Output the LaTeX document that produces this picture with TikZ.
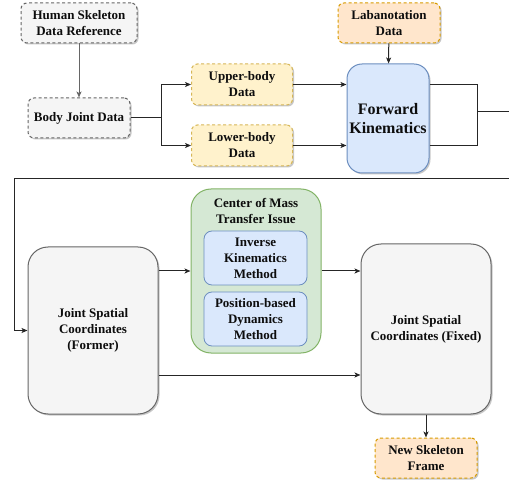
\documentclass[tikz,border=0pt]{standalone}
\usepackage{fontspec}
\setmainfont{Liberation Serif}
\usetikzlibrary{arrows.meta,shadows}
\definecolor{grayfill}{HTML}{F5F5F5}
\definecolor{graydraw}{HTML}{666666}
\definecolor{yelfill}{HTML}{FFF2CC}
\definecolor{yeldraw}{HTML}{D6B656}
\definecolor{orafill}{HTML}{FFE6CC}
\definecolor{oradraw}{HTML}{D79B00}
\definecolor{bluefill}{HTML}{DAE8FC}
\definecolor{bluedraw}{HTML}{6C8EBF}
\definecolor{grnfill}{HTML}{D5E8D4}
\definecolor{grndraw}{HTML}{82B366}
\begin{document}
\begin{tikzpicture}[x=1pt, y=-1pt,
  txt/.style={font=\fontsize{13}{16}\selectfont\bfseries, align=center,
              text=black!95, inner sep=2pt},
  shad/.style={drop shadow={shadow xshift=1.5pt, shadow yshift=-1.5pt,
               fill=black, opacity=0.22}},
  dbox/.style={txt, shad, draw, line width=1pt, rounded corners=6pt,
               dash pattern=on 3pt off 2.5pt},
  gbox/.style={dbox, fill=grayfill, draw=graydraw},
  ybox/.style={dbox, fill=yelfill, draw=yeldraw},
  obox/.style={dbox, fill=orafill, draw=oradraw},
  bbox/.style={txt, draw=bluedraw, fill=bluefill, line width=0.8pt,
               rounded corners=8pt},
  big/.style={txt, shad, draw=graydraw, fill=grayfill, line width=1pt,
              rounded corners=20pt},
  arr/.style={-{Stealth[length=6pt, width=5pt, inset=1.5pt]},
              line width=1pt, black!85},
  ln/.style={line width=1pt, black!85},
]
\useasboundingbox (0,0) rectangle (509,481);

% first row
\node[gbox, minimum width=116pt, minimum height=40pt] (hsref) at (79,23)
  {Human Skeleton\\Data Reference};
\node[gbox, minimum width=102pt, minimum height=40pt] (bjd) at (79,118)
  {Body Joint Data};
\node[ybox, minimum width=101pt, minimum height=41pt] (upper) at (242,84.5)
  {Upper-body\\Data};
\node[ybox, minimum width=101pt, minimum height=41pt] (lower) at (242,145.5)
  {Lower-body\\Data};
\node[obox, minimum width=102pt, minimum height=40pt] (laban) at (389,23)
  {Labanotation\\Data};
\node[bbox, shad, line width=1pt, rounded corners=15pt,
      minimum width=82pt, minimum height=109pt,
      font=\fontsize{16}{19}\selectfont\bfseries] (fk) at (388,118.5)
  {Forward\\Kinematics};

\coordinate (split) at (161,118);
\coordinate (mergeR) at (477,112);
\coordinate (wrapL) at (14,178.5);
\coordinate (low) at (0,375);

\draw[arr, graydraw] (hsref) -- (bjd);
\draw[ln] (bjd) -- (split);
\draw[arr] (split) |- (upper);
\draw[arr] (split) |- (lower);
\draw[arr] (upper.east) -- (upper.east -| fk.west);
\draw[arr] (lower.east) -- (lower.east -| fk.west);
\draw[arr] (laban) -- (fk);
\draw[ln] (upper.east -| fk.east) -| (mergeR);
\draw[ln] (lower.east -| fk.east) -| (mergeR);

% second row
\node[big, minimum width=130pt, minimum height=167pt] (former) at (93,330.5)
  {Joint Spatial\\Coordinates\\(Former)};
\node[draw=grndraw, fill=grnfill, line width=1pt, rounded corners=20pt,
      minimum width=130pt, minimum height=164pt] (group) at (256,271) {};
\node[txt] (title) at (256,211) {Center of Mass\\Transfer Issue};
\node[bbox, minimum width=103pt, minimum height=54pt] (ik) at (255.5,258)
  {Inverse\\Kinematics\\Method};
\node[bbox, minimum width=103pt, minimum height=54pt] (pbd) at (255.5,319)
  {Position-based\\Dynamics\\Method};
\node[big, minimum width=130pt, minimum height=170pt] (fixed) at (426,329)
  {Joint Spatial\\Coordinates (Fixed)};
\node[obox, minimum width=102pt, minimum height=40pt] (nsf) at (426,458)
  {New Skeleton\\Frame};

\draw[arr] (mergeR) -- ++(33,0) |- (wrapL) |- (former.west);
\draw[arr] (former.east |- group) -- (group.west);
\draw[arr] (group.east) -- (group.east -| fixed.west);
\draw[arr] (former.east |- low) -- (fixed.west |- low);
\draw[arr] (fixed) -- (nsf);
\end{tikzpicture}
\end{document}
